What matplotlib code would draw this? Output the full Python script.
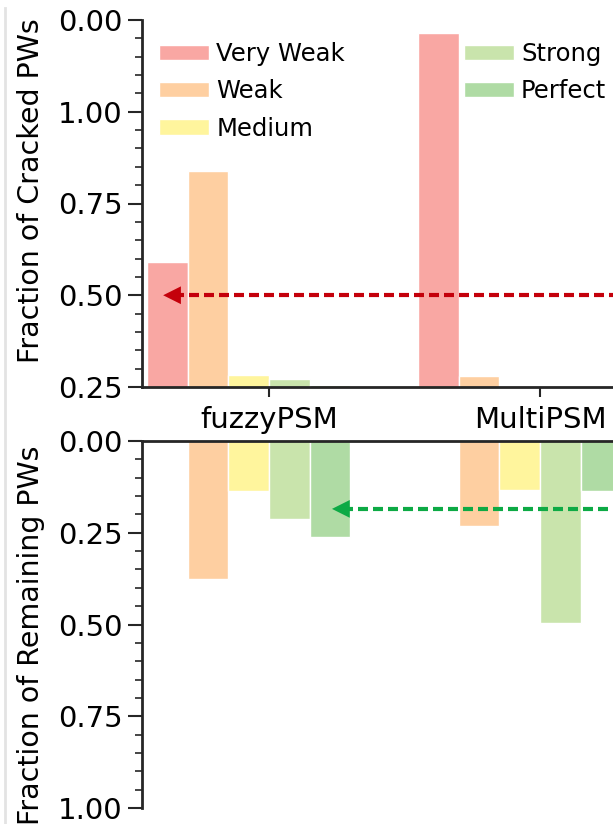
import numpy as np
import matplotlib.pyplot as plt
from matplotlib.ticker import MultipleLocator, FixedLocator
from matplotlib.lines import Line2D

# data
models = ['fuzzyPSM', 'MultiPSM']
classes = ['Very Weak', 'Weak', 'Medium', 'Strong', 'Perfect']
colors = ['#f9a7a3', '#fecfa1', '#fff59d', '#c9e4ac', '#afdba4']

cracked = {
    'Very Weak': [0.59, 1.214],
    'Weak': [0.839, 0.28],
    'Medium': [0.283, 0.20],
    'Strong': [0.272, 0.15],
    'Perfect': [0.255, 0.10],
}
remaining = {
    'Very Weak': [0.003, 0.0],
    'Weak': [0.376, 0.232],
    'Medium': [0.136, 0.134],
    'Strong': [0.213, 0.496],
    'Perfect': [0.262, 0.135],
}

top_ticks = [0.25, 0.50, 0.75, 1.00, 1.25]
top_ticklabels = ['0.25', '0.50', '0.75', '1.00', '0.00']
bottom_ticks = [0.0, 0.25, 0.5, 0.75, 1.0]

red_arrow = (-0.391, 0.50)
green_arrow = (0.232, 0.185)

W, H = 613, 824
fig = plt.figure(figsize=(W / 100, H / 100), dpi=100)

left = 142 / W
ax1 = fig.add_axes([left, 1 - 387 / H, 1 - left, (387 - 20) / H])
ax2 = fig.add_axes([left, 1 - 808 / H, 1 - left, (808 - 441) / H])

x = np.arange(len(models))
w = 0.15
for i, c in enumerate(classes):
    ax1.bar(x + (i - 2.5) * w, cracked[c], w, color=colors[i], edgecolor='white',
            linewidth=1, label=c)
    ax2.bar(x + (i - 2.5) * w, remaining[c], w, color=colors[i], edgecolor='white',
            linewidth=1)

xmin, xmax = -0.469, 1.269
for ax in (ax1, ax2):
    ax.set_xlim(xmin, xmax)
    ax.spines['right'].set_visible(False)
    for s in ax.spines.values():
        s.set_color('#262626')
        s.set_linewidth(2)
    ax.tick_params(axis='y', which='major', length=10, width=1.5, labelsize=21,
                   color='#262626', pad=4)
    ax.tick_params(axis='y', which='minor', length=5, width=1.2, color='#262626')
    ax.yaxis.set_minor_locator(MultipleLocator(0.05))

ax1.spines['top'].set_visible(False)
ax1.set_ylim(0.25, 1.25)
ax1.yaxis.set_major_locator(FixedLocator(top_ticks))
ax1.set_yticklabels(top_ticklabels)
ax1.set_xticks(x)
ax1.set_xticklabels(models)
ax1.tick_params(axis='x', length=7, width=1.5, labelsize=21, color='#262626', pad=7)
ax1.set_ylabel('Fraction of Cracked PWs', fontsize=20.5)
ax1.yaxis.set_label_coords(-0.205, 0.535)

ax2.spines['bottom'].set_visible(False)
ax2.set_ylim(1.0, 0.0)
ax2.yaxis.set_major_locator(FixedLocator(bottom_ticks))
ax2.set_yticklabels(['%.2f' % t for t in bottom_ticks])
ax2.set_xticks([])
ax2.set_ylabel('Fraction of Remaining PWs', fontsize=20.5)
ax2.yaxis.set_label_coords(-0.205, 0.47)

ax1.legend(ncol=2, loc='upper left', frameon=False, fontsize=17.5,
           bbox_to_anchor=(-0.01, 1.0), handlelength=2.05, handleheight=0.6,
           columnspacing=4.9, labelspacing=0.55, handletextpad=0.3)


def dashed_arrow(ax, tip, color):
    ax.plot([tip[0] + 0.04, xmax + 0.1], [tip[1], tip[1]], color=color, lw=3,
            dashes=(2.4, 1.2), clip_on=False, zorder=5)
    ax.annotate('', xy=tip, xytext=(tip[0] + 0.07, tip[1]),
                arrowprops=dict(arrowstyle='-|>', color=color, lw=0,
                                mutation_scale=32, shrinkA=0, shrinkB=0),
                zorder=6)


dashed_arrow(ax1, red_arrow, '#c4000b')
dashed_arrow(ax2, green_arrow, '#0daa45')

fig.add_artist(Line2D([5 / W, 5 / W], [0, 1 - 8 / H], color='#e3e3e3', lw=2))

fig.savefig('out.png', dpi=100)
